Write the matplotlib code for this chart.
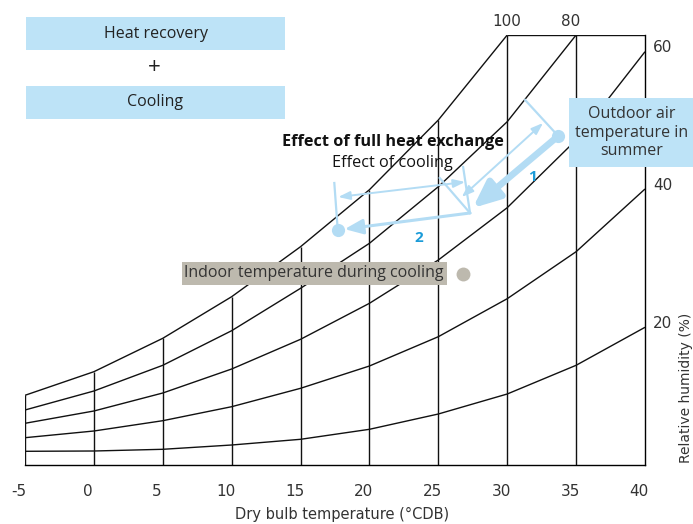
import matplotlib
matplotlib.use("Agg")
import matplotlib.pyplot as plt
from matplotlib.patches import Rectangle
from matplotlib.transforms import ScaledTranslation

# dry bulb temperature (deg C) and relative humidity curves (chart height units)
temps = [-5, 0, 5, 10, 15, 20, 25, 30, 35, 40]
rh100 = [69.7, 93.3, 126.7, 168.3, 218.3, 275.3, 345, 430]
rh80 = [55, 74, 99.7, 134.3, 176.7, 221.7, 278.3, 343.3, 430]
rh60 = [41.7, 54, 72, 96, 125.7, 161.7, 205, 257.3, 325, 413.3]
rh40 = [27.3, 34, 44.3, 58.3, 76.7, 99, 128.3, 166.3, 213.3, 276]
rh20 = [13.7, 14, 15.7, 20, 25.7, 35.7, 51, 71, 99.7, 137.7]
curves = [rh100, rh80, rh60, rh40, rh20]
rh_labels = ["100", "80", "60", "40", "20"]

# states of the air (temperature, height)
outdoor = (33.7, 329)
junction = (27.3, 252)
cooled = (17.7, 235)
indoor = (26.8, 191)

TOP = 430
BLUE = "#bde3f7"
ARROW = "#b3dcf4"
NUM = "#1b9bd8"
GREY = "#bdb9ae"
TXT = "#222222"
NARROW = ["Liberation Sans Narrow", "DejaVu Sans"]
SANS = ["Open Sans", "DejaVu Sans"]

fig = plt.figure(figsize=(6.93, 5.24), dpi=100)
W, H = 693, 524
ax = fig.add_axes([25 / W, 59 / H, 620 / W, 430 / H])
ax.set_xlim(-5, 40)
ax.set_ylim(0, TOP)

for c in curves:
    ax.plot(temps[:len(c)], c, color="#111111", lw=1.0, solid_capstyle="butt")

# vertical grid up to the saturation curve
tops = [min(v, TOP) for v in rh100] + [TOP]
ax.vlines(temps[:len(tops)], 0, tops, color="#111111", lw=1.0)
ax.hlines(TOP, 30, 40, color="#111111", lw=1.0)

for s in ["top", "left"]:
    ax.spines[s].set_visible(False)
for s in ["bottom", "right"]:
    ax.spines[s].set_linewidth(1.0)

ax.set_yticks([])
ax.set_xticks(temps)
ax.set_xticklabels([str(t) for t in temps], family=NARROW, fontsize=11, color="#333333")
ax.tick_params(axis="x", length=0, pad=14)
for lab in ax.get_xticklabels():
    lab.set_transform(lab.get_transform() + ScaledTranslation(-6 / 100, 0, fig.dpi_scale_trans))

# RH labels
ax.text(30, TOP + 6, "100", ha="center", va="bottom", family=NARROW, fontsize=11, color="#333333")
ax.text(35 - 0.4, TOP + 6, "80", ha="center", va="bottom", family=NARROW, fontsize=11, color="#333333")
for lab, c in zip(rh_labels[2:], curves[2:]):
    ax.text(40.6, c[-1] + 4, lab, ha="left", va="center", family=NARROW, fontsize=11, color="#333333")

fig.text(342 / W, 1 - 514 / H, "Dry bulb temperature (\u00b0CDB)", ha="center", va="center",
         family=NARROW, fontsize=10.5, color="#333333")
fig.text(686 / W, 1 - 388 / H, "Relative humidity (%)", ha="center", va="center", rotation=90,
         family=NARROW, fontsize=10, color="#333333")

# boxes at top left
for y0, y1, label in [(17, 50, "Heat recovery"), (86, 118.7, "Cooling")]:
    fig.add_artist(Rectangle((26 / W, 1 - y1 / H), 259 / W, (y1 - y0) / H,
                             transform=fig.transFigure, facecolor=BLUE, edgecolor="none"))
    fig.text(155.5 / W, 1 - (y0 + y1) / 2 / H, label, ha="center", va="center",
             family=SANS, fontsize=11.5, color=TXT)
fig.text(154 / W, 1 - 67.7 / H, "+", ha="center", va="center", family=SANS, fontsize=16,
         color=TXT)

# outdoor box
fig.add_artist(Rectangle((569 / W, 1 - 167.3 / H), 124 / W, 69 / H,
                         transform=fig.transFigure, facecolor=BLUE, edgecolor="none", zorder=3))
fig.text(632 / W, 1 - 132.7 / H, "Outdoor air\ntemperature in\nsummer", ha="center", va="center",
         family=SANS, fontsize=11.5, color="#333333", linespacing=1.2, zorder=4)

# indoor box + point
fig.add_artist(Rectangle((181.7 / W, 1 - 285 / H), 265 / W, 23.3 / H,
                         transform=fig.transFigure, facecolor=GREY, edgecolor="none", zorder=3))
fig.text(314.2 / W, 1 - 273.3 / H, "Indoor temperature during cooling", ha="center", va="center",
         family=SANS, fontsize=11.5, color="#333333", zorder=4)
ax.plot(*indoor, "o", color=GREY, ms=10, mec="none", zorder=5)

# process arrows
ax.annotate("", xy=(27.5, 257), xytext=outdoor,
            arrowprops=dict(arrowstyle="-|>,head_length=1.6,head_width=0.7", lw=4.8,
                            color=ARROW, shrinkA=0, shrinkB=0), zorder=5)
ax.annotate("", xy=cooled, xytext=junction,
            arrowprops=dict(arrowstyle="-|>,head_length=1.1,head_width=0.45", lw=2.2,
                            color=ARROW, shrinkA=0, shrinkB=5), zorder=5)
ax.plot(*outdoor, "o", color=ARROW, ms=9.5, mec="none", zorder=6)
ax.plot(*cooled, "o", color=ARROW, ms=9.5, mec="none", zorder=6)

# dimension: full heat exchange
ax.plot([outdoor[0], 31.3], [outdoor[1], 365], color=ARROW, lw=1.6, zorder=5)
ax.plot([junction[0], 25.1], [junction[1], 287], color=ARROW, lw=1.6, zorder=5)
ax.annotate("", xy=(32.6, 342), xytext=(26.7, 268),
            arrowprops=dict(arrowstyle="<|-|>,head_length=0.7,head_width=0.25", lw=1.4,
                            color=ARROW, shrinkA=0, shrinkB=0), zorder=5)

# dimension: cooling
ax.plot([junction[0], 26.8], [junction[1], 298], color=ARROW, lw=1.6, zorder=5)
ax.plot([cooled[0], 17.45], [cooled[1], 282], color=ARROW, lw=1.6, zorder=5)
ax.annotate("", xy=(26.94, 283), xytext=(17.74, 268),
            arrowprops=dict(arrowstyle="<|-|>,head_length=0.7,head_width=0.25", lw=1.4,
                            color=ARROW, shrinkA=0, shrinkB=0), zorder=5)

ax.text(21.71, 323.3, "Effect of full heat exchange", ha="center", va="center",
        family=SANS, fontsize=11.7, fontweight="bold", color="#111111", zorder=6)
ax.text(21.67, 302, "Effect of cooling", ha="center", va="center",
        family=SANS, fontsize=11.7, color="#111111", zorder=6)
ax.text(31.85, 287.7, "1", ha="center", va="center", family=SANS, fontsize=11,
        fontweight="bold", color=NUM, zorder=6)
ax.text(23.6, 226.7, "2", ha="center", va="center", family=SANS, fontsize=11,
        fontweight="bold", color=NUM, zorder=6)

fig.savefig("out.png", dpi=100)
